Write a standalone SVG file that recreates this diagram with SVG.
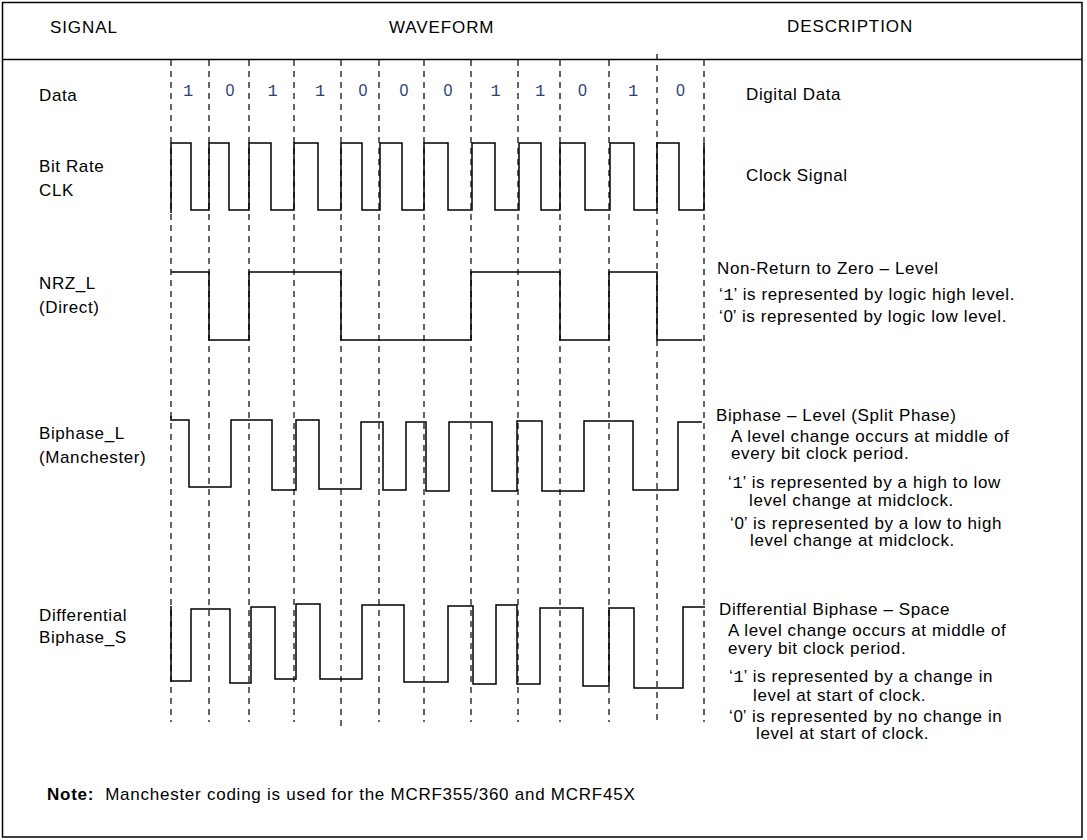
<svg xmlns="http://www.w3.org/2000/svg" width="1087" height="840" viewBox="0 0 1087 840">
<style>
  text { font-family: "Liberation Sans", Arial, sans-serif; font-size: 17px; fill: #000; letter-spacing: 0.6px; }
  .hdr { letter-spacing: 0.9px; }
  .bit { font-family: "Liberation Mono", "Courier New", monospace; font-size: 17px; fill: #2b3f7a; text-anchor: middle; letter-spacing: 0; }
  .bit0 { font-family: "Liberation Sans", Arial, sans-serif; font-size: 16px; fill: #2b3f7a; text-anchor: middle; letter-spacing: 0; }
  .mono { font-family: "Liberation Mono", "Courier New", monospace; letter-spacing: 0; }
  .zero { letter-spacing: 0; }
  .note { letter-spacing: 0.75px; }
  .grid { stroke: #000; stroke-width: 1.2; stroke-dasharray: 6 5; fill: none; }
  .wave { stroke: #000; stroke-width: 1.5; fill: none; stroke-linejoin: miter; }
  .frame { stroke: #000; stroke-width: 1.5; fill: none; }
</style>
<rect x="0" y="0" width="1087" height="840" fill="#fff"/>
<g id="frame">
  <rect class="frame" x="2.5" y="2.5" width="1079.5" height="834.5"/>
  <line class="frame" x1="2.5" y1="59.5" x2="1082" y2="59.5"/>
</g>
<g id="headers">
  <text class="hdr" x="50" y="33">SIGNAL</text>
  <text class="hdr" x="389" y="33">WAVEFORM</text>
  <text class="hdr" x="787" y="32">DESCRIPTION</text>
</g>
<g id="grid">
  <line class="grid" x1="171" y1="60" x2="171" y2="722"/>
  <line class="grid" x1="209" y1="60" x2="209" y2="722"/>
  <line class="grid" x1="249" y1="60" x2="249" y2="722"/>
  <line class="grid" x1="294" y1="60" x2="294" y2="722"/>
  <line class="grid" x1="341" y1="60" x2="341" y2="726"/>
  <line class="grid" x1="379" y1="60" x2="379" y2="722"/>
  <line class="grid" x1="424" y1="60" x2="424" y2="722"/>
  <line class="grid" x1="471" y1="60" x2="471" y2="722"/>
  <line class="grid" x1="518" y1="60" x2="518" y2="722"/>
  <line class="grid" x1="560" y1="60" x2="560" y2="722"/>
  <line class="grid" x1="609" y1="60" x2="609" y2="722"/>
  <line class="grid" x1="657" y1="54" x2="657" y2="722"/>
  <line class="grid" x1="704" y1="60" x2="704" y2="722"/>
</g>
<g id="row-data">
  <text x="39" y="101">Data</text>
  <text class="bit" x="188" y="96">1</text>
  <text class="bit0" x="230" y="96">0</text>
  <text class="bit" x="272.5" y="96">1</text>
  <text class="bit" x="320" y="96">1</text>
  <text class="bit0" x="363" y="96">0</text>
  <text class="bit0" x="404" y="96">0</text>
  <text class="bit0" x="448" y="96">0</text>
  <text class="bit" x="495.5" y="96">1</text>
  <text class="bit" x="540" y="96">1</text>
  <text class="bit0" x="582.5" y="96">0</text>
  <text class="bit" x="633" y="96">1</text>
  <text class="bit0" x="680.5" y="96">0</text>
  <text x="746" y="100">Digital Data</text>
</g>
<g id="row-clk">
  <text x="39" y="172">Bit Rate</text>
  <text x="39" y="196">CLK</text>
  <text x="746" y="181">Clock Signal</text>
</g>
<g id="row-nrz">
  <text x="39" y="289">NRZ_L</text>
  <text x="39" y="313">(Direct)</text>
  <text x="717" y="274">Non-Return to Zero – Level</text>
  <text x="719" y="300">‘<tspan class="mono">1</tspan>’ is represented by logic high level.</text>
  <text x="719" y="322">‘<tspan class="zero">0</tspan>’ is represented by logic low level.</text>
</g>
<g id="row-biphase-l">
  <text x="39" y="439">Biphase_L</text>
  <text x="39" y="463">(Manchester)</text>
  <text x="716" y="421">Biphase – Level (Split Phase)</text>
  <text x="731" y="442">A level change occurs at middle of</text>
  <text x="731" y="459">every bit clock period.</text>
  <text x="728" y="488">‘<tspan class="mono">1</tspan>’ is represented by a high to low</text>
  <text x="749" y="506">level change at midclock.</text>
  <text x="730" y="529">‘<tspan class="zero">0</tspan>’ is represented by a low to high</text>
  <text x="750" y="546">level change at midclock.</text>
</g>
<g id="row-diff">
  <text x="39" y="621">Differential</text>
  <text x="39" y="643">Biphase_S</text>
  <text x="719" y="615">Differential Biphase – Space</text>
  <text x="728" y="636">A level change occurs at middle of</text>
  <text x="728" y="654">every bit clock period.</text>
  <text x="729" y="682">‘<tspan class="mono">1</tspan>’ is represented by a change in</text>
  <text x="753" y="701">level at start of clock.</text>
  <text x="729" y="722">‘<tspan class="zero">0</tspan>’ is represented by no change in</text>
  <text x="756" y="739">level at start of clock.</text>
</g>
<g id="connectors">
  <path id="wave-clk" class="wave" d="M171,213 V143 H191 V210 H209 V143 H229 V210 H249 V143 H271 V210 H294 V143 H318 V210 H341 V143 H362 V210 H380 V143 H402 V210 H424 V143 H448 V210 H472 V143 H495 V210 H519 V143 H541 V210 H560 V143 H585 V210 H610 V143 H634 V210 H657 V143 H679 V210 H704 V143"/>
  <path id="wave-nrz" class="wave" d="M171,272 H209 V340 H249 V272 H341 V340 H471 V272 H560 V340 H609 V272 H657 V340 H702"/>
  <path id="wave-biphase-l" class="wave" d="M171,416 V420 H189 V487 H231 V420 H272 V490 H296 V420 H319 V489 H361 V422 H383 V490 H406 V422 H426 V491 H449 V422 H492 V491 H517 V421 H542 V491 H584 V421 H633 V490 H678 V422 H702"/>
  <path id="wave-diff" class="wave" d="M171,606 V681 H191 V609 H230 V683 H251 V607 H275 V679 H296 V604 H320 V679 H362 V605 H404 V682 H448 V606 H473 V684 H496 V605 H517 V684 H540 V608 H583 V686 H609 V608 H634 V688 H683 V607 H705"/>
</g>
<g id="note">
  <text class="note" x="47" y="800" xml:space="preserve"><tspan font-weight="bold">Note:</tspan>  Manchester coding is used for the MCRF355/360 and MCRF45X</text>
</g>
</svg>
